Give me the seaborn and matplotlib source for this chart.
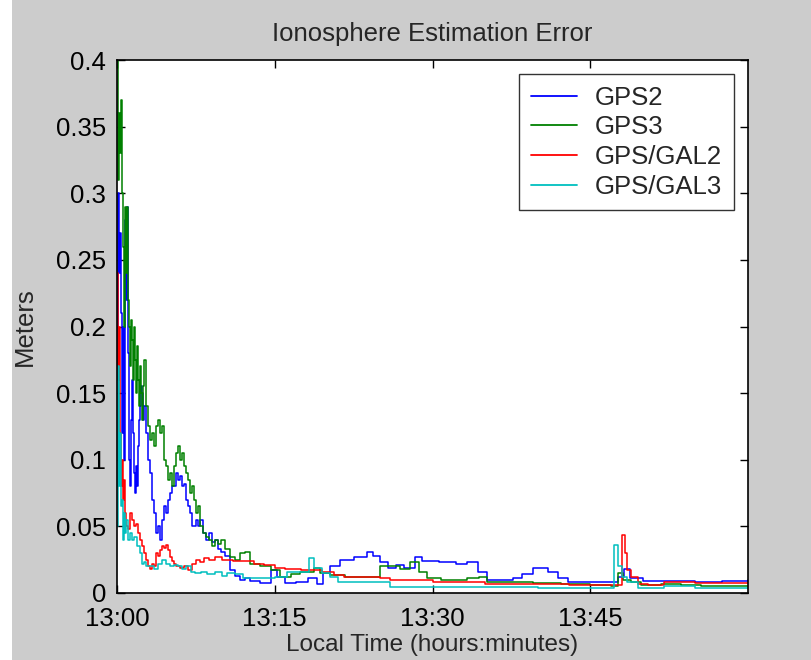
import numpy as np
import pandas as pd
import matplotlib
matplotlib.use("Agg")
import matplotlib.pyplot as plt
import matplotlib.patches as mpatches
import seaborn as sns

# ---- data (minutes after 13:00, meters) ----
gps2_t = [0, 0.1, 0.2, 0.29, 0.38, 0.48, 0.57, 0.67, 0.76, 0.86, 0.95, 1.05, 1.14, 1.24, 1.33, 1.43,
          1.52, 1.62, 1.71, 1.8, 1.9, 2.0, 2.1, 2.19, 2.29, 2.38, 2.48, 2.57, 2.76, 2.95, 3.14, 3.33,
          3.52, 3.71, 3.9, 4.1, 4.29, 4.48, 4.67, 4.86, 5.05, 5.24, 5.43, 5.62, 5.81, 6.0, 6.19, 6.38,
          6.57, 6.76, 6.95, 7.14, 7.33, 7.52, 7.71, 7.9, 8.19, 8.48, 8.76, 9.05, 9.33, 9.62, 9.9, 10.29,
          10.76, 11.24, 11.71, 12.19, 12.67, 13.6, 14.6, 15.2, 16.0, 17.0, 18.2, 19.0, 19.6, 20.3, 21.2,
          22.5, 23.8, 24.3, 25.0, 25.8, 26.5, 27.3, 28.3, 29.0, 30.6, 32.2, 33.3, 34.3, 35.2, 36.5, 37.7,
          38.5, 39.6, 41.0, 41.9, 42.9, 45.0, 46.5, 47.6, 48.2, 48.8, 50.0, 52.0, 55.0, 57.5, 60.0]
gps2_v = [0.17, 0.30, 0.24, 0.27, 0.21, 0.12, 0.20, 0.10, 0.28, 0.22, 0.29, 0.18, 0.10, 0.08, 0.13, 0.16,
          0.12, 0.09, 0.075, 0.095, 0.08, 0.11, 0.13, 0.14, 0.155, 0.15, 0.13, 0.14, 0.12, 0.10, 0.09, 0.07,
          0.06, 0.045, 0.05, 0.04, 0.055, 0.065, 0.06, 0.07, 0.075, 0.08, 0.08, 0.09, 0.085, 0.088, 0.08, 0.082,
          0.07, 0.065, 0.06, 0.05, 0.05, 0.055, 0.05, 0.055, 0.045, 0.04, 0.045, 0.038, 0.04, 0.033, 0.031, 0.028,
          0.017, 0.013, 0.010, 0.011, 0.009, 0.0075, 0.017, 0.012, 0.0075, 0.008, 0.011, 0.007, 0.015, 0.020, 0.025,
          0.027, 0.031, 0.028, 0.023, 0.019, 0.021, 0.019, 0.027, 0.024, 0.023, 0.022, 0.023, 0.016, 0.010, 0.010, 0.011,
          0.014, 0.019, 0.016, 0.011, 0.008, 0.008, 0.008, 0.012, 0.018, 0.011, 0.009, 0.009, 0.008, 0.009, 0.0095]

gps3_t = [0, 0.1, 0.2, 0.29, 0.38, 0.48, 0.57, 0.67, 0.76, 0.86, 0.95, 1.05, 1.14, 1.24, 1.33, 1.43,
          1.52, 1.62, 1.71, 1.8, 1.9, 2.0, 2.1, 2.19, 2.29, 2.38, 2.48, 2.57, 2.76, 2.95, 3.14, 3.33,
          3.52, 3.71, 3.9, 4.1, 4.29, 4.48, 4.67, 4.86, 5.05, 5.24, 5.43, 5.62, 5.81, 6.0, 6.19, 6.38,
          6.57, 6.76, 6.95, 7.14, 7.33, 7.52, 7.71, 7.9, 8.19, 8.48, 8.76, 9.05, 9.33, 9.62, 9.9, 10.29,
          10.76, 11.24, 11.71, 12.19, 12.67, 13.6, 14.6, 15.5, 16.5, 17.4, 18.7, 19.3, 20.3, 21.7, 23.1,
          24.1, 25.0, 26.0, 26.95, 27.9, 28.7, 29.5, 30.8, 32.2, 33.3, 34.4, 35.2, 37.4, 39.6, 42.2, 45.0,
          47.0, 47.6, 48.1, 48.9, 49.8, 51.7, 53.6, 55.5, 57.4, 60.0]
gps3_v = [0.40, 0.31, 0.36, 0.33, 0.37, 0.30, 0.26, 0.20, 0.29, 0.24, 0.29, 0.22, 0.20, 0.17, 0.205, 0.19,
          0.16, 0.20, 0.175, 0.15, 0.185, 0.16, 0.14, 0.17, 0.15, 0.13, 0.155, 0.175, 0.14, 0.125, 0.115, 0.12,
          0.11, 0.125, 0.13, 0.12, 0.125, 0.10, 0.095, 0.085, 0.09, 0.08, 0.095, 0.105, 0.11, 0.10, 0.105, 0.095,
          0.09, 0.085, 0.075, 0.08, 0.07, 0.06, 0.065, 0.05, 0.045, 0.042, 0.04, 0.035, 0.04, 0.037, 0.04, 0.033,
          0.027, 0.025, 0.030, 0.031, 0.022, 0.020, 0.017, 0.012, 0.014, 0.016, 0.019, 0.015, 0.0135, 0.012, 0.012,
          0.012, 0.020, 0.020, 0.018, 0.023, 0.016, 0.011, 0.0098, 0.0098, 0.011, 0.012, 0.008, 0.008, 0.0075, 0.007, 0.006,
          0.005, 0.015, 0.010, 0.008, 0.006, 0.007, 0.006, 0.005, 0.005, 0.005]

gal2_t = [0, 0.1, 0.2, 0.29, 0.38, 0.48, 0.57, 0.67, 0.76, 0.86, 1.0, 1.24, 1.43, 1.62, 1.8, 2.0,
          2.19, 2.38, 2.57, 2.76, 2.95, 3.14, 3.33, 3.52, 3.71, 3.9, 4.1, 4.29, 4.48, 4.67, 4.86, 5.05,
          5.24, 5.43, 5.62, 6.0, 6.38, 6.76, 7.14, 7.52, 7.9, 8.3, 8.76, 9.3, 10.0, 11.0, 12.0, 13.0,
          14.0, 15.0, 16.0, 17.5, 19.5, 20.6, 21.6, 25.0, 26.0, 30.0, 35.0, 40.0, 43.0, 47.0, 47.7, 48.0,
          48.3, 48.5, 48.9, 49.5, 50.5, 52.0, 55.0, 60.0]
gal2_v = [0.24, 0.16, 0.20, 0.12, 0.08, 0.10, 0.07, 0.085, 0.06, 0.05, 0.048, 0.06, 0.055, 0.05, 0.052, 0.045,
          0.04, 0.035, 0.03, 0.025, 0.02, 0.018, 0.022, 0.02, 0.03, 0.028, 0.032, 0.035, 0.034, 0.036, 0.032, 0.027,
          0.024, 0.022, 0.02, 0.019, 0.02, 0.017, 0.022, 0.025, 0.023, 0.026, 0.025, 0.027, 0.025, 0.024, 0.024, 0.022,
          0.021, 0.019, 0.018, 0.017, 0.016, 0.0135, 0.012, 0.011, 0.0098, 0.008, 0.007, 0.0065, 0.006, 0.006, 0.006, 0.0435,
          0.03, 0.017, 0.012, 0.007, 0.006, 0.008, 0.0075, 0.0075]

gal3_t = [0, 0.1, 0.2, 0.29, 0.38, 0.48, 0.57, 0.67, 0.76, 0.86, 1.0, 1.24, 1.43, 1.62, 1.9, 2.19,
          2.38, 2.57, 2.76, 3.14, 3.52, 3.9, 4.29, 4.67, 5.05, 5.43, 5.81, 6.19, 6.57, 7.0, 7.4, 8.0,
          8.6, 9.3, 10.0, 10.5, 11.2, 12.0, 13.5, 15.0, 16.2, 17.5, 18.3, 18.7, 19.5, 20.3, 21.0, 25.0,
          26.0, 30.0, 40.0, 47.0, 47.3, 47.6, 48.0, 48.5, 49.5, 52.0, 55.0, 60.0]
gal3_v = [0.05, 0.17, 0.08, 0.12, 0.065, 0.07, 0.04, 0.06, 0.045, 0.055, 0.04, 0.045, 0.04, 0.042, 0.035, 0.03,
          0.022, 0.023, 0.02, 0.02, 0.018, 0.022, 0.025, 0.022, 0.02, 0.021, 0.02, 0.018, 0.02, 0.016, 0.015, 0.016,
          0.014, 0.016, 0.013, 0.015, 0.014, 0.011, 0.011, 0.012, 0.016, 0.016, 0.026, 0.019, 0.015, 0.012, 0.008, 0.008,
          0.0045, 0.0045, 0.004, 0.004, 0.036, 0.02, 0.012, 0.008, 0.004, 0.005, 0.004, 0.0035]

series_names = ["GPS2", "GPS3", "GPS/GAL2", "GPS/GAL3"]
series_colors = ["#0000ff", "#008000", "#ff0000", "#00bfbf"]
xtick_vals = [0, 15, 30, 45]
xtick_labels = ["13:00", "13:15", "13:30", "13:45"]
ytick_vals = [0, 0.05, 0.1, 0.15, 0.2, 0.25, 0.3, 0.35, 0.4]
ytick_labels = ["0", "0.05", "0.1", "0.15", "0.2", "0.25", "0.3", "0.35", "0.4"]

frames = []
for name, t, v in zip(series_names, [gps2_t, gps3_t, gal2_t, gal3_t], [gps2_v, gps3_v, gal2_v, gal3_v]):
    frames.append(pd.DataFrame({"t": t, "v": v, "series": name}))
df = pd.concat(frames, ignore_index=True)

sns.set_style("ticks")
plt.rcParams["font.family"] = ["Liberation Sans", "DejaVu Sans"]
FS = 18.5

fig = plt.figure(figsize=(8.11, 6.60), dpi=100)
fig.patch.set_facecolor("#cccccc")
# white strip at the left edge of the window
fig.patches.append(mpatches.Rectangle((0, 0), 12 / 811, 1, transform=fig.transFigure,
                                      facecolor="white", edgecolor="none", zorder=0))
ax = fig.add_axes([117 / 811, 1 - 593 / 660, (748 - 117) / 811, (593 - 60) / 660])
ax.set_facecolor("white")

sns.lineplot(data=df, x="t", y="v", hue="series", hue_order=series_names,
             palette=dict(zip(series_names, series_colors)), estimator=None,
             drawstyle="steps-post", linewidth=1.1, ax=ax, legend=True)

ax.set_xlim(0, 60)
ax.set_ylim(0, 0.4)
ax.set_xticks(xtick_vals)
ax.set_xticklabels(xtick_labels)
ax.set_yticks(ytick_vals)
ax.set_yticklabels(ytick_labels)
ax.tick_params(direction="in", length=6, width=1, top=True, right=True,
               labelsize=FS, colors="black")
ax.tick_params(axis="y", pad=8)
ax.tick_params(axis="x", pad=10)
for s in ax.spines.values():
    s.set_visible(True)
    s.set_color("black")
    s.set_linewidth(1.2)

ax.set_title("Ionosphere Estimation Error", fontsize=FS, pad=14)
ax.set_xlabel("Local Time (hours:minutes)", fontsize=17.5)
ax.set_ylabel("Meters", fontsize=FS)
ax.yaxis.set_label_coords(-0.127, 0.5)
ax.xaxis.set_label_coords(0.5, -0.077)

leg = ax.legend(loc="upper right", fontsize=FS, frameon=True, fancybox=False,
                handlelength=1.8, handletextpad=0.7, borderpad=0.45,
                labelspacing=0.22, borderaxespad=0.55)
leg.get_frame().set_edgecolor("black")
leg.get_frame().set_linewidth(1.0)
for line in leg.get_lines():
    line.set_linewidth(1.3)

fig.savefig("out.png", dpi=100, facecolor=fig.get_facecolor())
